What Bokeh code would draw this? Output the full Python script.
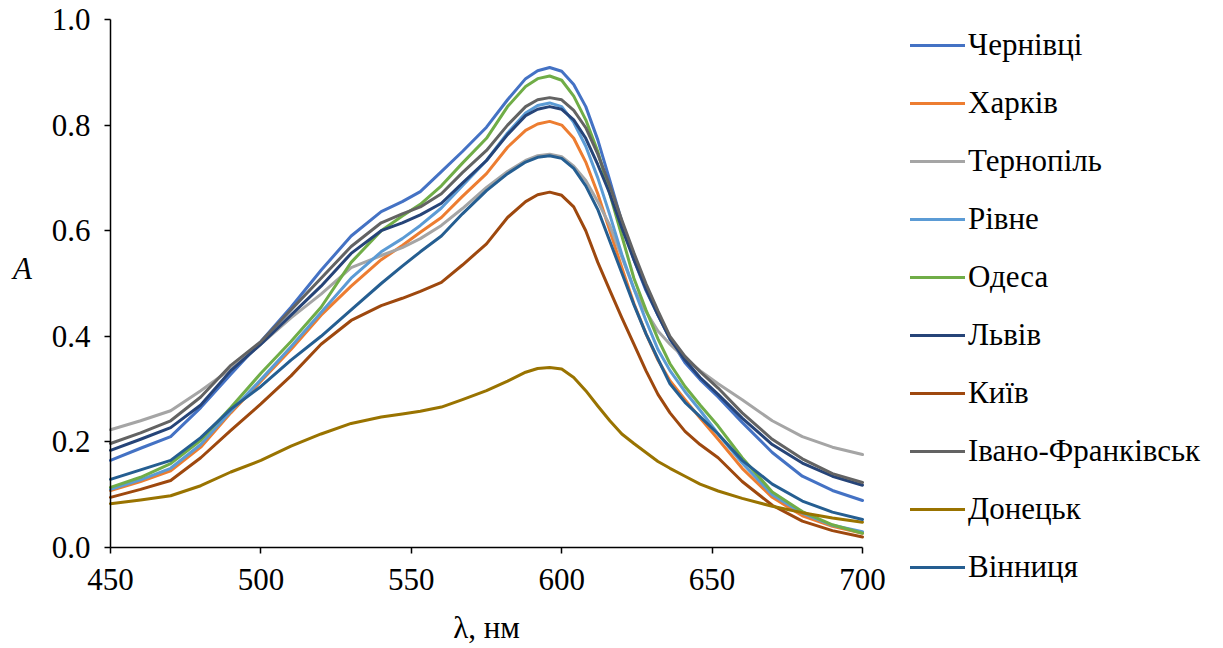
from bokeh.plotting import figure
from bokeh.models import Range1d, Legend, LegendItem, FixedTicker, NumeralTickFormatter, Label
from bokeh.embed import file_html
from bokeh.resources import INLINE

wavelength = [450, 460, 470, 480, 490, 500, 510, 520, 530, 540, 547, 553, 560, 567, 575, 582, 588, 592,
              596, 600, 604, 608, 612, 616, 620, 624, 628, 632, 636, 641, 646, 652, 660, 670, 680, 690, 700]

chernivtsi = [0.165, 0.188, 0.210, 0.265, 0.328, 0.390, 0.455, 0.525, 0.590, 0.636, 0.655, 0.674, 0.712, 0.750,
              0.796, 0.848, 0.888, 0.903, 0.909, 0.902, 0.877, 0.835, 0.772, 0.695, 0.617, 0.545, 0.487, 0.440,
              0.395, 0.350, 0.318, 0.285, 0.237, 0.180, 0.135, 0.108, 0.089]
kharkiv = [0.108, 0.125, 0.145, 0.190, 0.255, 0.315, 0.375, 0.440, 0.495, 0.545, 0.572, 0.597, 0.625, 0.665,
           0.708, 0.758, 0.790, 0.802, 0.807, 0.800, 0.775, 0.730, 0.670, 0.600, 0.530, 0.462, 0.405, 0.355,
           0.316, 0.280, 0.245, 0.205, 0.150, 0.095, 0.060, 0.040, 0.027]
ternopil = [0.223, 0.240, 0.259, 0.297, 0.338, 0.385, 0.435, 0.480, 0.530, 0.553, 0.568, 0.585, 0.610, 0.642,
            0.682, 0.712, 0.733, 0.742, 0.745, 0.740, 0.722, 0.695, 0.655, 0.610, 0.550, 0.490, 0.447, 0.410,
            0.385, 0.358, 0.335, 0.310, 0.280, 0.240, 0.210, 0.190, 0.176]
rivne = [0.110, 0.128, 0.150, 0.195, 0.258, 0.318, 0.380, 0.445, 0.510, 0.560, 0.585, 0.610, 0.643, 0.685,
         0.733, 0.785, 0.823, 0.837, 0.842, 0.835, 0.805, 0.760, 0.700, 0.630, 0.555, 0.490, 0.430, 0.375,
         0.335, 0.295, 0.260, 0.215, 0.160, 0.100, 0.065, 0.042, 0.030]
odesa = [0.114, 0.133, 0.159, 0.203, 0.265, 0.330, 0.390, 0.455, 0.540, 0.600, 0.628, 0.650, 0.685, 0.728,
         0.775, 0.835, 0.873, 0.888, 0.893, 0.885, 0.855, 0.810, 0.750, 0.670, 0.590, 0.510, 0.450, 0.395,
         0.348, 0.305, 0.270, 0.230, 0.170, 0.105, 0.068, 0.043, 0.027]
lviv = [0.184, 0.205, 0.227, 0.270, 0.335, 0.385, 0.440, 0.495, 0.557, 0.600, 0.615, 0.630, 0.652, 0.690,
        0.733, 0.782, 0.818, 0.830, 0.835, 0.830, 0.810, 0.775, 0.725, 0.670, 0.605, 0.545, 0.490, 0.440,
        0.395, 0.355, 0.322, 0.290, 0.245, 0.195, 0.160, 0.135, 0.118]
kyiv = [0.095, 0.110, 0.127, 0.170, 0.222, 0.272, 0.325, 0.385, 0.430, 0.458, 0.472, 0.485, 0.502, 0.535,
        0.575, 0.625, 0.655, 0.668, 0.673, 0.667, 0.645, 0.600, 0.540, 0.487, 0.435, 0.385, 0.335, 0.290,
        0.255, 0.220, 0.195, 0.170, 0.125, 0.080, 0.050, 0.032, 0.020]
ivano_frankivsk = [0.197, 0.217, 0.240, 0.285, 0.345, 0.390, 0.450, 0.510, 0.570, 0.615, 0.632, 0.645, 0.670, 0.710,
                   0.752, 0.800, 0.835, 0.848, 0.852, 0.848, 0.828, 0.795, 0.745, 0.685, 0.620, 0.558, 0.500, 0.448,
                   0.400, 0.362, 0.333, 0.302, 0.255, 0.205, 0.168, 0.140, 0.123]
donetsk = [0.083, 0.090, 0.098, 0.117, 0.143, 0.165, 0.192, 0.215, 0.235, 0.247, 0.253, 0.258, 0.266, 0.280,
           0.297, 0.315, 0.332, 0.339, 0.341, 0.338, 0.322, 0.297, 0.268, 0.240, 0.215, 0.197, 0.180, 0.163,
           0.150, 0.135, 0.120, 0.107, 0.093, 0.078, 0.066, 0.056, 0.048]
vinnytsia = [0.129, 0.147, 0.165, 0.208, 0.262, 0.305, 0.355, 0.400, 0.450, 0.500, 0.533, 0.560, 0.590, 0.632,
             0.676, 0.708, 0.730, 0.739, 0.742, 0.737, 0.718, 0.685, 0.640, 0.580, 0.520, 0.460, 0.405, 0.357,
             0.310, 0.275, 0.248, 0.215, 0.165, 0.120, 0.088, 0.067, 0.053]

series_names = ["Чернівці", "Харків", "Тернопіль", "Рівне", "Одеса", "Львів", "Київ",
                "Івано-Франківськ", "Донецьк", "Вінниця"]
series_values = [chernivtsi, kharkiv, ternopil, rivne, odesa, lviv, kyiv, ivano_frankivsk, donetsk, vinnytsia]
series_colors = ["#4472C4", "#ED7D31", "#A5A5A5", "#5B9BD5", "#70AD47", "#264478", "#9E480E",
                 "#636363", "#997300", "#255E91"]

x_ticks = [450, 500, 550, 600, 650, 700]
y_ticks = [0.0, 0.2, 0.4, 0.6, 0.8, 1.0]

FONT = "Liberation Serif"
FS = "31px"

# The frame covers the whole canvas so that the legend, tick labels and axis
# titles are never clipped; both axes are drawn at fixed data locations and
# limited to the data extent with bounds.
W, H = 1223, 648
LEFT, TOP = 110, 19
X0, X1, Y0, Y1 = 450, 700, 0.0, 1.0
DATA_W, DATA_H = 752, 528
x_start = X0 - LEFT * (X1 - X0) / DATA_W
x_end = X0 + (W - LEFT) * (X1 - X0) / DATA_W
y_start = Y0 - (H - TOP - DATA_H) * (Y1 - Y0) / DATA_H
y_end = Y1 + TOP * (Y1 - Y0) / DATA_H

p = figure(width=W, height=H, output_backend="svg", toolbar_location=None,
           x_range=Range1d(x_start, x_end), y_range=Range1d(y_start, y_end),
           min_border_left=0, min_border_right=0, min_border_top=0, min_border_bottom=0)
p.outline_line_color = None
p.grid.visible = False
p.background_fill_color = "white"
p.border_fill_color = "white"

items = []
for name, vals, col in zip(series_names, series_values, series_colors):
    r = p.line(wavelength, vals, line_color=col, line_width=3, line_join="round", line_cap="round")
    items.append(LegendItem(label=name, renderers=[r]))

for ax in (p.xaxis[0], p.yaxis[0]):
    ax.axis_line_color = "black"
    ax.axis_line_width = 1.5
    ax.major_tick_line_color = "black"
    ax.major_tick_line_width = 1.5
    ax.major_tick_in = 0
    ax.major_tick_out = 6
    ax.minor_tick_line_color = None
    ax.major_label_text_font = FONT
    ax.major_label_text_font_size = FS
    ax.major_label_text_color = "black"
    ax.axis_label_text_font = FONT
    ax.axis_label_text_font_size = FS
    ax.axis_label_text_color = "black"

p.xaxis.ticker = FixedTicker(ticks=x_ticks)
p.yaxis.ticker = FixedTicker(ticks=y_ticks)
p.xaxis.bounds = (X0, X1)
p.yaxis.bounds = (Y0, Y1)
p.xaxis.fixed_location = Y0
p.yaxis.fixed_location = X0
p.yaxis.formatter = NumeralTickFormatter(format="0.0")
p.xaxis.major_label_standoff = 15
p.yaxis.major_label_standoff = 14
p.xaxis.axis_label = "λ, нм"
p.xaxis.axis_label_standoff = 17
p.xaxis.axis_label_text_font_style = "normal"

y_title = Label(x=22, y=H - 268, x_units="screen", y_units="screen", text="A",
                text_font=FONT, text_font_size=FS, text_font_style="italic",
                text_color="black", text_align="center", text_baseline="middle")
p.add_layout(y_title)

legend = Legend(items=items, location=(910, 61), orientation="vertical",
                glyph_width=55, glyph_height=40, label_height=40, label_standoff=3,
                spacing=18, padding=0, margin=0,
                label_text_font=FONT, label_text_font_size=FS, label_text_color="black",
                border_line_color=None, background_fill_alpha=0)
p.add_layout(legend, "center")

open("out.html", "w").write(file_html(p, INLINE))
